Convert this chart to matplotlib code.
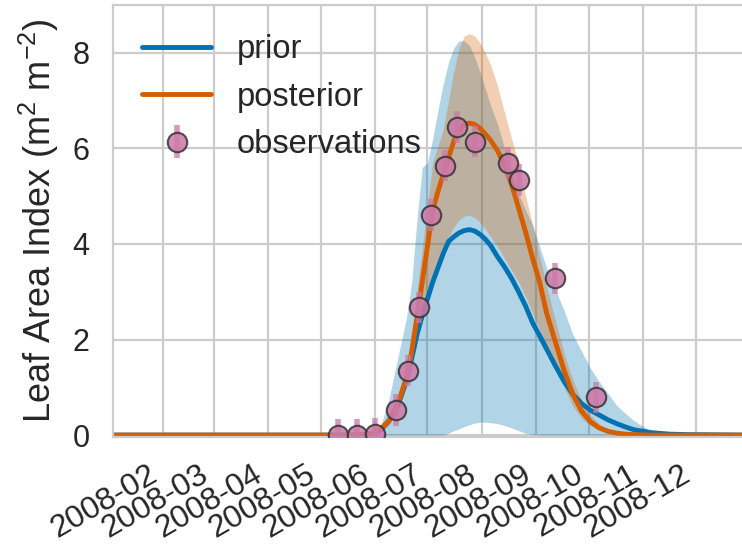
import numpy as np
import pandas as pd
import matplotlib
matplotlib.use("Agg")
import matplotlib.pyplot as plt
import matplotlib.dates as mdates

# dates of the curve samples
curve_dates = ["2008-01-01", "2008-04-10", "2008-05-20", "2008-05-25", "2008-05-30",
               "2008-06-04", "2008-06-09", "2008-06-14", "2008-06-19", "2008-06-22",
               "2008-06-25", "2008-06-28", "2008-07-01", "2008-07-04", "2008-07-07",
               "2008-07-10", "2008-07-13", "2008-07-16", "2008-07-19", "2008-07-22",
               "2008-07-25", "2008-07-28", "2008-07-31", "2008-08-03", "2008-08-06",
               "2008-08-10", "2008-08-14", "2008-08-18", "2008-08-22", "2008-08-26",
               "2008-08-30", "2008-09-03", "2008-09-07", "2008-09-12", "2008-09-17",
               "2008-09-22", "2008-09-27", "2008-10-02", "2008-10-07", "2008-10-12",
               "2008-10-17", "2008-10-22", "2008-10-27", "2008-11-06", "2008-11-16",
               "2008-11-26", "2008-12-31"]

prior_mean = [0, 0, 0, 0, 0.03,
              0.1, 0.3, 0.6, 1.15, 1.6,
              2.1, 2.5, 2.85, 3.2, 3.5,
              3.8, 4.05, 4.15, 4.23, 4.28,
              4.3, 4.27, 4.2, 4.1, 3.97,
              3.73, 3.52, 3.28, 3.0, 2.7,
              2.35, 2.08, 1.8, 1.45, 1.12,
              0.85, 0.66, 0.52, 0.42, 0.32,
              0.24, 0.17, 0.11, 0.05, 0.02,
              0.01, 0]
prior_low = [0, 0, 0, 0, 0,
             0, 0, 0, 0, 0,
             0, 0, 0, 0, 0,
             0, 0.04, 0.09, 0.13, 0.18,
             0.22, 0.25, 0.27, 0.27, 0.26,
             0.24, 0.2, 0.15, 0.09, 0.04,
             0.01, 0, 0, 0, 0,
             0, 0, 0, 0, 0,
             0, 0, 0, 0, 0,
             0, 0]
prior_high = [0, 0, 0, 0.02, 0.05,
              0.15, 0.75, 1.6, 2.45, 3.2,
              4.5, 5.6, 5.7, 6.2, 6.8,
              7.35, 7.8, 8.1, 8.25, 8.25,
              8.15, 7.9, 7.6, 7.25, 6.9,
              6.5, 6.0, 5.5, 5.05, 4.7,
              4.4, 3.95, 3.5, 3.05, 2.6,
              2.1, 1.75, 1.4, 1.12, 0.87,
              0.62, 0.45, 0.3, 0.07, 0.01,
              0, 0]

post_mean = [0, 0, 0, 0, 0.03,
             0.12, 0.3, 0.65, 1.2, 1.75,
             2.45, 3.2, 3.95, 4.7, 5.1,
             5.45, 5.8, 6.15, 6.38, 6.5,
             6.53, 6.5, 6.42, 6.3, 6.17,
             5.95, 5.65, 5.25, 4.75, 4.25,
             3.7, 3.2, 2.55, 1.95, 1.35,
             0.85, 0.5, 0.28, 0.15, 0.08,
             0.04, 0.02, 0.01, 0, 0,
             0, 0]
post_low = [0, 0, 0, 0, 0,
            0.05, 0.2, 0.5, 1.0, 1.45,
            1.95, 2.4, 2.85, 3.2, 3.5,
            3.85, 4.15, 4.35, 4.5, 4.58,
            4.6, 4.55, 4.45, 4.32, 4.15,
            3.95, 3.7, 3.45, 3.2, 2.9,
            2.55, 2.2, 1.85, 1.45, 1.0,
            0.6, 0.35, 0.2, 0.1, 0.05,
            0.02, 0, 0, 0, 0,
            0, 0]
post_high = [0, 0, 0, 0, 0.05,
             0.15, 0.35, 0.75, 1.45, 2.15,
             3.0, 3.9, 4.8, 5.7, 6.05,
             6.4, 7.0, 7.6, 8.1, 8.35,
             8.4, 8.35, 8.2, 8.0, 7.75,
             7.3, 6.75, 6.2, 5.7, 5.0,
             4.4, 3.75, 3.1, 2.4, 1.7,
             1.15, 0.72, 0.42, 0.24, 0.12,
             0.06, 0.03, 0.01, 0, 0,
             0, 0]

obs_dates = ["2008-05-11", "2008-05-22", "2008-06-01", "2008-06-13", "2008-06-20",
             "2008-06-26", "2008-07-03", "2008-07-11", "2008-07-18", "2008-07-28",
             "2008-08-16", "2008-08-22", "2008-09-12", "2008-10-05"]
obs_lai = [0.0, 0.0, 0.03, 0.52, 1.35, 2.67, 4.6, 5.64, 6.45, 6.14, 5.7, 5.34, 3.28, 0.79]
obs_err = 0.33

blue = "#0072B2"
orange = "#D55E00"
pink = "#CC79A7"

plt.rcParams['font.family'] = ['Liberation Sans', 'DejaVu Sans']
plt.rcParams['axes.edgecolor'] = '.8'
plt.rcParams['grid.color'] = '.8'
plt.rcParams['grid.linewidth'] = 1.6
plt.rcParams['axes.linewidth'] = 1.6
plt.rcParams['text.color'] = '.15'
plt.rcParams['xtick.color'] = '.15'
plt.rcParams['ytick.color'] = '.15'
plt.rcParams['axes.labelcolor'] = '.15'
plt.rcParams['xtick.major.size'] = 0
plt.rcParams['ytick.major.size'] = 0
plt.rcParams['mathtext.default'] = 'regular'

t = pd.to_datetime(curve_dates)
t_obs = pd.to_datetime(obs_dates)

fig = plt.figure(figsize=(7.42, 5.47), dpi=100)
ax = fig.add_axes([113 / 742, 1 - 437 / 547, 1 - 113 / 742, (437 - 5) / 547])
ax.set_axisbelow(True)
ax.grid(True)

ax.fill_between(t, prior_low, prior_high, color=blue, alpha=0.3, lw=0)
ax.fill_between(t, post_low, post_high, color=orange, alpha=0.3, lw=0)
ax.plot(t, prior_mean, color=blue, lw=3.5, solid_capstyle='round', label='prior')
ax.plot(t, post_mean, color=orange, lw=3.5, solid_capstyle='round', label='posterior')
eb = ax.errorbar(t_obs, obs_lai, yerr=obs_err, fmt='o', ms=14, mfc=pink, mec='0.2',
                 mew=1.5, ecolor=(0.8, 0.47, 0.65, 0.75), elinewidth=4,
                 label='observations', zorder=5)
eb[0].set_alpha(0.85)

ax.set_xlim(pd.Timestamp("2008-01-03 13:00"), pd.Timestamp("2008-12-27 12:00"))
ax.set_ylim(-0.04, 9.0)
ax.set_yticks([0, 2, 4, 6, 8])
ax.xaxis.set_major_locator(mdates.MonthLocator(bymonth=range(2, 13)))
ax.xaxis.set_major_formatter(mdates.DateFormatter('%Y-%m'))
for lab in ax.get_xticklabels():
    lab.set_rotation(30)
    lab.set_ha('right')
ax.tick_params(axis='x', labelsize=23, pad=16)
ax.tick_params(axis='y', labelsize=22, pad=17)
ax.spines['right'].set_visible(False)
ax.set_ylabel('Leaf Area Index (m$^2$ m$^{-2}$)', fontsize=26, labelpad=8)

ax.legend(loc='upper left', frameon=False, fontsize=23.5, handlelength=2.1,
          bbox_to_anchor=(0.0, 1.0))

fig.savefig('out.png', dpi=100)
